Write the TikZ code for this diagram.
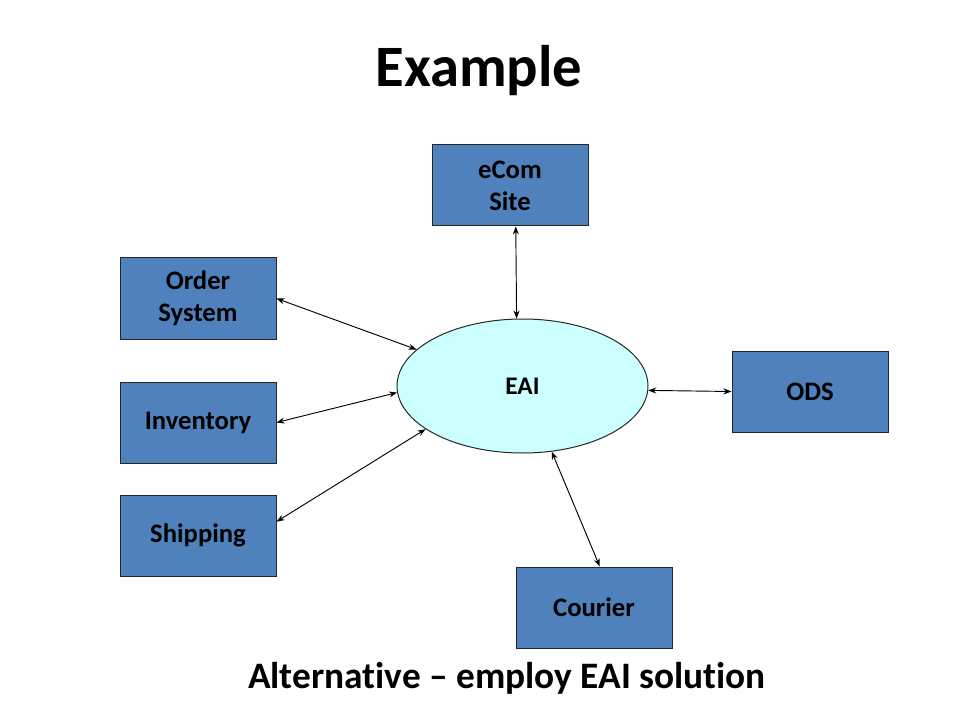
\documentclass[tikz,border=0pt]{standalone}
\usepackage{fontspec}
\setmainfont{Carlito}[Ligatures=NoCommon]
\usetikzlibrary{shapes.geometric,arrows.meta}
\definecolor{boxblue}{HTML}{4F81BD}
\definecolor{hubcyan}{HTML}{CCFFFF}
\tikzset{
  sysbox/.style={draw=black!85, line width=0.75pt, fill=boxblue, minimum width=117pt,
    minimum height=60.75pt, inner sep=0pt, align=center,
    font=\fontsize{20}{24}\selectfont\bfseries},
  hub/.style={ellipse, draw=black!85, line width=0.75pt, fill=hubcyan, minimum width=188.25pt,
    minimum height=100.5pt, inner sep=0pt, font=\fontsize{19}{24}\selectfont\bfseries},
  link/.style={{Stealth[length=6pt,width=4.5pt]}-{Stealth[length=6pt,width=4.5pt]}, line width=0.7pt}
}
\begin{document}
\begin{tikzpicture}[x=0.75pt,y=-0.75pt]
\useasboundingbox (0,0) rectangle (960,720);
%タイトル
\node[anchor=base, font=\fontsize{44}{52}\selectfont\bfseries] (ttl) at (479,87) {Example};

%中央
\node[hub] (eai) at (522.5,386) {EAI};

%システム
\node[sysbox] (ecom) at (510,185.5) {eCom\\Site};
\node[sysbox] (ord) at (198,298.5) {Order\\System};
\node[sysbox] (inv) at (198,422.5) {Inventory};
\node[sysbox] (shp) at (198,535.5) {Shipping};
\node[sysbox] (ods) at (810,391.5) {ODS};
\node[sysbox] (crr) at (594,607.5) {Courier};

%矢印
\draw[link] (ecom.-82) -- (eai.95);
\draw[link] (ord.east) -- (eai.161);
\draw[link] (inv.east) -- (eai.183);
\draw[link] (shp.10) -- (eai.204);
\draw[link] (eai.-2) -- (ods.west);
\draw[link] (eai.-66) -- (crr.82);

%説明
\node[anchor=base, font=\fontsize{28}{34}\selectfont\bfseries] (cap) at (507,688) {Alternative – employ EAI solution};
\end{tikzpicture}
\end{document}
